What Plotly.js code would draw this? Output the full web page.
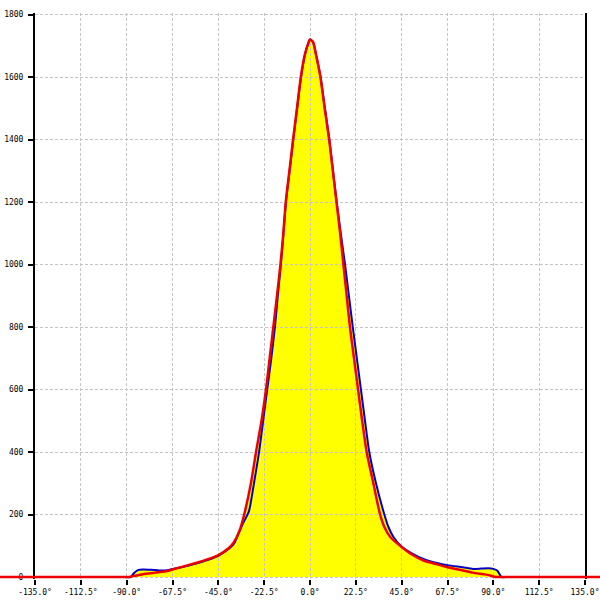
<!DOCTYPE html>
<html>
<head>
<meta charset="utf-8">
<script src="https://cdn.plot.ly/plotly-3.0.1.min.js"></script>
<style>html,body{margin:0;padding:0;background:#fff}#chart{width:600px;height:600px}</style>
</head>
<body>
<div id="chart"></div>
<script>
// Tick labels
const xTickVals = [-135, -112.5, -90, -67.5, -45, -22.5, 0, 22.5, 45, 67.5, 90, 112.5, 135];
const xTickText = ['-135.0°', '-112.5°', '-90.0°', '-67.5°', '-45.0°', '-22.5°', '0.0°', '22.5°', '45.0°', '67.5°', '90.0°', '112.5°', '135.0°'];
const yTickVals = [0, 200, 400, 600, 800, 1000, 1200, 1400, 1600, 1800];

// Blue series
const blueDeg = [-100, -92, -88, -86.5, -84.5, -82, -78, -74, -70, -67.5, -62, -56, -50, -45, -42, -39, -37, -35, -33, -30, -27.5, -25, -23, -21, -19, -17.2, -15.8, -14.3, -13, -11.8, -10, -8.2, -6.3, -4.4, -2.5, -1, 0, 1.5, 3, 5.2, 7.3, 9.5, 11.3, 13.1, 15.1, 17.2, 19.1, 21, 23.0, 25.0, 27.0, 29.1, 32.4, 36.5, 38.5, 40.9, 45, 50, 56, 62.8, 67.5, 75, 80, 84, 87.5, 90, 92, 94, 97, 100];
const blueVal = [0, 0, 0, 12, 22, 24, 23, 21, 22, 26, 33, 43, 55, 68, 80, 95, 110, 140, 170, 210, 300, 400, 500, 600, 700, 800, 900, 1000, 1100, 1200, 1300, 1400, 1500, 1600, 1670, 1705, 1720, 1712, 1670, 1600, 1500, 1400, 1300, 1200, 1100, 1000, 900, 800, 700, 600, 500, 400, 300, 200, 160, 129, 97, 76, 57, 44, 38, 31, 26, 27, 28, 26, 20, 0, 0, 0];

// Red series
const redDeg = [-160, -120, -95, -89, -86, -82, -76, -70, -67.5, -62, -56, -50, -45, -40, -37.5, -34.5, -32.3, -29, -26.5, -23.8, -21.6, -19.8, -18, -16.2, -14.5, -13.1, -11.9, -10.1, -8.3, -6.4, -4.5, -2.6, -1, 0, 1.5, 3, 5.1, 7.2, 9.4, 11.2, 13, 14.8, 16.4, 18, 19.6, 21.6, 23.6, 25.6, 27.8, 31.1, 34.4, 36.5, 39.3, 45, 50, 56, 60.5, 67.5, 75, 80, 85, 88.5, 91, 95, 120, 150];
const redVal = [0, 0, 0, 0, 4, 9, 14, 19, 24, 34, 45, 57, 70, 92, 110, 150, 200, 300, 400, 500, 600, 700, 800, 900, 1000, 1100, 1200, 1300, 1400, 1500, 1600, 1670, 1705, 1720, 1712, 1670, 1600, 1500, 1400, 1300, 1200, 1100, 1000, 900, 800, 700, 600, 500, 400, 300, 200, 160, 129, 96, 72, 52, 44, 31, 21, 14, 9, 5, 0, 0, 0, 0];

const YELLOW = '#ffff00';
const BLUE = '#0000c8';
const RED = '#ee0000';
const SHAPE = 'spline';
const SMOOTH = 0.6;

const traces = [
  // fills (bottom subplot, full width)
  {x: blueDeg, y: blueVal, xaxis: 'x', yaxis: 'y', type: 'scatter', mode: 'lines', fill: 'tozeroy',
   fillcolor: YELLOW, line: {width: 0, color: YELLOW, shape: SHAPE, smoothing: SMOOTH}, hoverinfo: 'skip', showlegend: false},
  {x: redDeg, y: redVal, xaxis: 'x', yaxis: 'y', type: 'scatter', mode: 'lines', fill: 'tozeroy',
   fillcolor: YELLOW, line: {width: 0, color: YELLOW, shape: SHAPE, smoothing: SMOOTH}, hoverinfo: 'skip', showlegend: false},
  // grid / axes subplot
  {x: [], y: [], xaxis: 'x2', yaxis: 'y2', type: 'scatter', mode: 'lines', showlegend: false},
  // lines (top subplot, full width)
  {x: blueDeg, y: blueVal, xaxis: 'x3', yaxis: 'y3', type: 'scatter', mode: 'lines',
   line: {width: 2, color: BLUE, shape: SHAPE, smoothing: SMOOTH}, showlegend: false},
  {x: redDeg, y: redVal, xaxis: 'x3', yaxis: 'y3', type: 'scatter', mode: 'lines',
   line: {width: 2.5, color: RED, shape: SHAPE, smoothing: SMOOTH}, showlegend: false}
];

const k = 550 / 270;
const fullRange = [-135 - 35 / k, 135 + 15 / k];
const yRange = [-6.4, 1804.8];
const tickFont = {family: 'DejaVu Sans Mono, monospace', size: 8, color: '#000'};

const layout = {
  width: 600, height: 600,
  margin: {l: 0, r: 0, t: 13, b: 21, pad: 0},
  paper_bgcolor: '#ffffff',
  plot_bgcolor: 'rgba(0,0,0,0)',
  showlegend: false,
  xaxis: {domain: [0, 1], range: fullRange, visible: false, fixedrange: true},
  yaxis: {domain: [0, 1], range: yRange, visible: false, fixedrange: true},
  xaxis3: {domain: [0, 1], range: fullRange, visible: false, anchor: 'y3'},
  yaxis3: {domain: [0, 1], range: yRange, visible: false, anchor: 'x3'},
  xaxis2: {
    domain: [35 / 600, 585 / 600], range: [-135, 135], anchor: 'y2',
    tickmode: 'array', tickvals: xTickVals, ticktext: xTickText,
    ticks: 'outside', ticklen: 5, tickwidth: 2, tickcolor: '#000',
    showline: false, zeroline: false,
    showgrid: true, gridcolor: '#c4c4c4', gridwidth: 1, griddash: '3px,2px',
    tickfont: tickFont
  },
  yaxis2: {
    domain: [0, 1], range: yRange, anchor: 'x2',
    tickmode: 'array', tickvals: yTickVals,
    ticks: 'outside', ticklen: 5, tickwidth: 2, tickcolor: '#000',
    showline: true, mirror: true, linecolor: '#000', linewidth: 2, zeroline: false,
    showgrid: true, gridcolor: '#c4c4c4', gridwidth: 1, griddash: '3px,2px',
    tickfont: tickFont, ticklabelstandoff: 3
  }
};

Plotly.newPlot('chart', traces, layout, {staticPlot: true, displayModeBar: false});
</script>
</body>
</html>
